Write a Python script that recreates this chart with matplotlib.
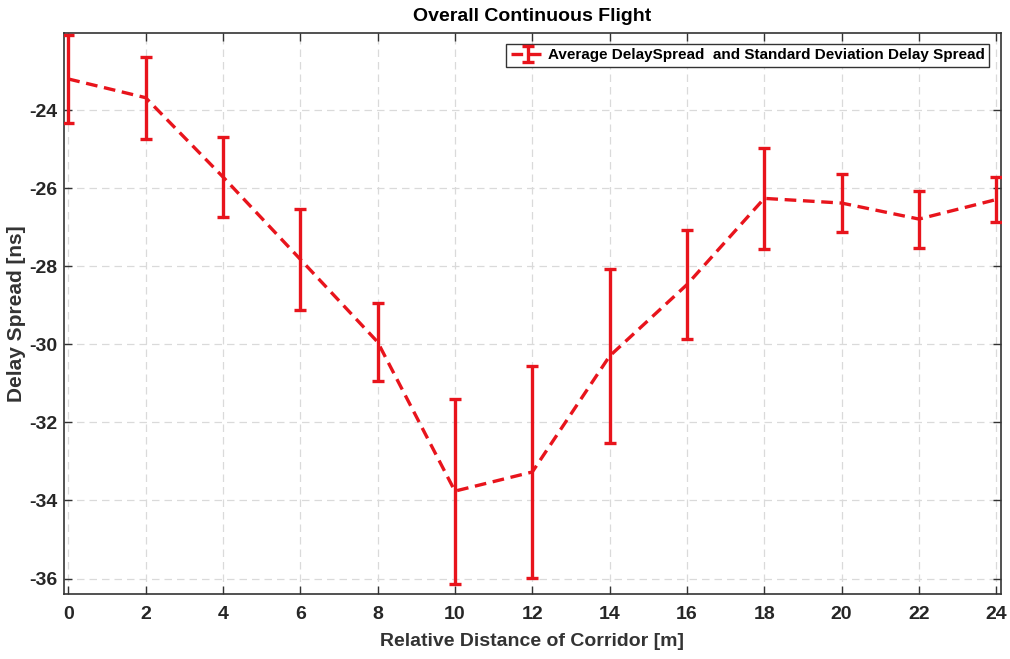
import matplotlib
matplotlib.use('Agg')
import matplotlib.pyplot as plt

# Relative distance along corridor [m]
distance = [0, 2, 4, 6, 8, 10, 12, 14, 16, 18, 20, 22, 24]
# Average delay spread [ns]
mean_spread = [-23.20, -23.68, -25.71, -27.82, -29.94, -33.76, -33.27,
               -30.30, -28.47, -26.26, -26.38, -26.79, -26.29]
# Standard deviation of delay spread [ns]
std_spread = [1.13, 1.05, 1.03, 1.29, 0.99, 2.37, 2.71,
              2.23, 1.39, 1.29, 0.75, 0.73, 0.57]

plt.rcParams['font.family'] = ['Liberation Sans', 'DejaVu Sans']
plt.rcParams['font.weight'] = 'bold'
plt.rcParams['axes.unicode_minus'] = False

fig = plt.figure(figsize=(10.10, 6.59), dpi=100)
ax = fig.add_axes([0.0634, 0.099, 0.9276, 0.8505])

red = '#e8141c'
ax.errorbar(distance, mean_spread, yerr=std_spread, color=red,
            linestyle=(0, (3.5, 2)), linewidth=2.4, elinewidth=2.4,
            capsize=4, capthick=2.4, zorder=3,
            label='Average DelaySpread  and Standard Deviation Delay Spread')

ax.set_xlim(-0.11, 24.12)
ax.set_ylim(-36.39, -22.03)
ax.set_xticks(range(0, 25, 2))
ax.set_yticks(range(-36, -23, 2))

ax.grid(True, color='#dadada', linestyle=(0, (6, 4)), linewidth=0.9)
ax.tick_params(direction='in', top=True, right=True, length=6,
               width=1, color='#333333', labelsize=14)
ax.tick_params(axis='x', pad=9)
ax.tick_params(axis='y', pad=5)
for lab in ax.get_xticklabels() + ax.get_yticklabels():
    lab.set_fontweight('bold')
    lab.set_color('#262626')
for sp in ax.spines.values():
    sp.set_color('#333333')
    sp.set_linewidth(1.2)

ax.set_title('Overall Continuous Flight', fontsize=14, fontweight='bold', pad=9)
ax.set_xlabel('Relative Distance of Corridor [m]', fontsize=14,
              fontweight='bold', color='#333333', labelpad=7)
ax.set_ylabel('Delay Spread [ns]', fontsize=15, fontweight='bold',
              color='#333333')
ax.yaxis.set_label_coords(-0.041, 0.5)

leg = ax.legend(loc='upper right', fontsize=11, frameon=True, fancybox=False,
                edgecolor='#333333', framealpha=1, borderpad=0.3,
                handlelength=2.2, handletextpad=0.2,
                bbox_to_anchor=(0.9955, 0.995))
leg.get_frame().set_linewidth(1.0)
for t in leg.get_texts():
    t.set_fontweight('bold')

fig.savefig('out.png', dpi=100)
